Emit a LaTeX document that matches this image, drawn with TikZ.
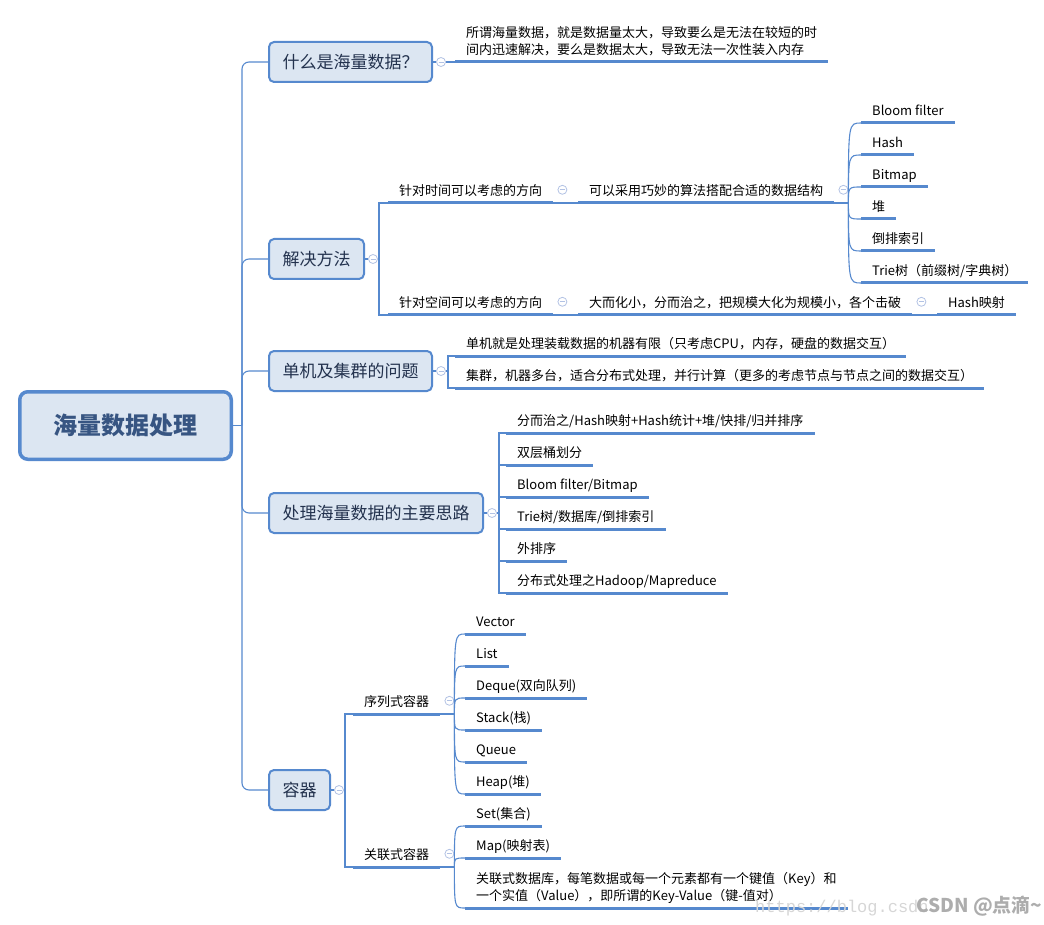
\documentclass[tikz,border=0pt]{standalone}
\usepackage{fontspec}
\setmainfont{Noto Sans CJK SC}
\newfontfamily\urlfont{Liberation Mono}
\usetikzlibrary{positioning,calc}
\definecolor{MapBlue}{RGB}{86,137,206}
\definecolor{BoxFill}{RGB}{220,230,242}
\definecolor{BoxText}{RGB}{35,50,78}
\definecolor{RootText}{RGB}{55,85,130}
\definecolor{FoldGray}{RGB}{178,194,228}
\tikzset{
  root/.style={draw=MapBlue,fill=BoxFill,line width=3.5pt,rounded corners=8pt,
    minimum width=211.5pt,minimum height=67.5pt,font=\fontsize{24}{28}\selectfont\bfseries,text=RootText},
  topic/.style={draw=MapBlue,fill=BoxFill,line width=2pt,rounded corners=5pt,anchor=west,
    inner xsep=13.5pt,minimum height=40pt,font=\fontsize{17}{20}\selectfont,text=BoxText},
  leaf/.style={anchor=south west,inner xsep=11pt,inner ysep=6pt,text height=10pt,text depth=1pt,
    align=left,font=\fontsize{13}{17.5}\selectfont},
  ul/.style={draw=MapBlue,line width=3pt},
  link/.style={draw=MapBlue,line width=1.1pt},
}
\tikzset{fold/.style={circle,draw=FoldGray,fill=white,line width=0.8pt,minimum size=9pt,inner sep=0pt,
  path picture={\draw[FoldGray,line width=0.8pt] ([xshift=2pt]path picture bounding box.west) -- ([xshift=-2pt]path picture bounding box.east);}},
  stamp/.style={anchor=base west,inner sep=0pt}}

\begin{document}
\begin{tikzpicture}[x=1pt,y=-1pt]
\useasboundingbox (0,0) rectangle (1044,925);
% centre and first level
\node[root] (root) at (125.5,425.5) {海量数据处理};
\node[topic] (b1) at (268,62) {什么是海量数据？};
\node[topic] (b2) at (268,259) {解决方法};
\node[topic] (b3) at (268,371) {单机及集群的问题};
\node[topic] (b4) at (268,513) {处理海量数据的主要思路};
\node[topic] (b5) at (268,790) {容器};
\coordinate (trunk) at (242,425.5);
\foreach \b/\c in {b1/c1,b2/c2,b3/c3,b4/c4,b5/c5}
  \node[fold] (\c) at ([xshift=8pt]\b.east) {};
% what is it
\node[leaf] (w1) at (455,62) {所谓海量数据，就是数据量太大，导致要么是无法在较短的时\\间内迅速解决，要么是数据太大，导致无法一次性装入内存};
% ways to solve
\node[leaf] (t1) at (388,203) {针对时间可以考虑的方向};
\node[leaf] (t2) at (578,203) {可以采用巧妙的算法搭配合适的数据结构};
\node[leaf] (d1) at (861,123) {Bloom filter};
\node[leaf] (d2) at (861,155) {Hash};
\node[leaf] (d3) at (861,187) {Bitmap};
\node[leaf] (d4) at (861,219) {堆};
\node[leaf] (d5) at (861,251) {倒排索引};
\node[leaf] (d6) at (861,283) {Trie树（前缀树/字典树）};
\node[leaf] (t3) at (388,315) {针对空间可以考虑的方向};
\node[leaf] (t4) at (578,315) {大而化小，分而治之，把规模大化为规模小，各个击破};
\node[leaf] (t5) at (937,315) {Hash映射};
% single machine and cluster
\node[leaf] (s1) at (455,356) {单机就是处理装载数据的机器有限（只考虑CPU，内存，硬盘的数据交互）};
\node[leaf] (s2) at (455,388) {集群，机器多台，适合分布式处理，并行计算（更多的考虑节点与节点之间的数据交互）};
% main ideas
\node[leaf] (p1) at (506,433) {分而治之/Hash映射+Hash统计+堆/快排/归并排序};
\node[leaf] (p2) at (506,465) {双层桶划分};
\node[leaf] (p3) at (506,497) {Bloom filter/Bitmap};
\node[leaf] (p4) at (506,529) {Trie树/数据库/倒排索引};
\node[leaf] (p5) at (506,561) {外排序};
\node[leaf] (p6) at (506,593) {分布式处理之Hadoop/Mapreduce};
% containers
\node[leaf] (q1) at (353,714) {序列式容器};
\node[leaf] (q2) at (353,867) {关联式容器};
\node[leaf] (v1) at (465,634) {Vector};
\node[leaf] (v2) at (465,666) {List};
\node[leaf] (v3) at (465,698) {Deque(双向队列)};
\node[leaf] (v4) at (465,730) {Stack(栈)};
\node[leaf] (v5) at (465,762) {Queue};
\node[leaf] (v6) at (465,794) {Heap(堆)};
\node[leaf] (a1) at (465,826) {Set(集合)};
\node[leaf] (a2) at (465,858) {Map(映射表)};
\node[leaf] (a3) at (465,908) {关联式数据库，每笔数据或每一个元素都有一个键值（Key）和\\一个实值（Value），即所谓的Key-Value（键-值对）};
\foreach \n in {t1,t2,t3,t4,q1,q2}
  \node[fold] (o\n) at ([xshift=9pt,yshift=1.5pt]\n.east) {};
% connectors
\draw[link] (root.east) -- (trunk);
\draw[link,rounded corners=7pt] (b1.west) -| (trunk) |- (b5.west);
\foreach \b in {b2,b3,b4}
  \draw[link,rounded corners=7pt] (trunk) |- (\b.west);
\foreach \b/\c in {b1/c1,b2/c2,b3/c3,b4/c4,b5/c5}
  \draw[link] (\b.east) -- (\c.west);
\draw[link] (c1.east) -- (w1.south west);
\coordinate (f2) at ([xshift=6pt]c2.center);
\coordinate (f4) at ([xshift=7pt]c3.center);
\coordinate (f5) at ([xshift=7pt]c4.center);
\coordinate (f6) at ([xshift=6pt]c5.center);
\draw[link] (c2.east) -- (f2);
\draw[link] (t1.south west) -| (f2) |- (t3.south west);
\draw[link] (t1.south east) -- (t2.south west);
\draw[link] (t3.south east) -- (t4.south west);
\draw[link] (t4.south east) -- (t5.south west);
\coordinate (f3) at ([xshift=14pt]t2.south east);
\draw[link] (t2.south east) -- (f3);
\foreach \i in {1,...,6}
  \draw[link] (f3) .. controls (f3 |- d\i.south west) .. (d\i.south west);
\draw[link] (c3.east) -- (f4);
\draw[link] (s1.south west) -| (f4) |- (s2.south west);
\draw[link] (c4.east) -- (f5);
\draw[link] (p1.south west) -| (f5) |- (p6.south west);
\foreach \i in {2,...,5}
  \draw[link] (p\i.south west) -- (p\i.south west -| f5);
\draw[link] (c5.east) -- (f6);
\draw[link] (q1.south west) -| (f6) |- (q2.south west);
\coordinate (f7) at ([xshift=14pt]q1.south east);
\coordinate (f8) at ([xshift=14pt]q2.south east);
\draw[link] (q1.south east) -- (f7);
\draw[link] (q2.south east) -- (f8);
\foreach \i in {1,...,6}
  \draw[link] (f7) .. controls (f7 |- v\i.south west) .. (v\i.south west);
\foreach \i in {1,2,3}
  \draw[link] (f8) .. controls (f8 |- a\i.south west) .. (a\i.south west);
% underlines
\foreach \n in {w1,t1,t2,t3,t4,t5,s1,s2,q1,q2,d1,d2,d3,d4,d5,d6,p1,p2,p3,p4,p5,p6,v1,v2,v3,v4,v5,v6,a1,a2,a3}
  \draw[ul] (\n.south west) -- (\n.south east);
% watermark
\node[stamp,font=\urlfont\fontsize{17}{17}\selectfont,text=black!16] (url) at (755,912) {https://blog.csdn};
\node[stamp,font=\fontsize{19}{19}\selectfont\bfseries,text=black!32] (sign) at (916,912) {CSDN @点滴\textasciitilde};
\end{tikzpicture}
\end{document}
